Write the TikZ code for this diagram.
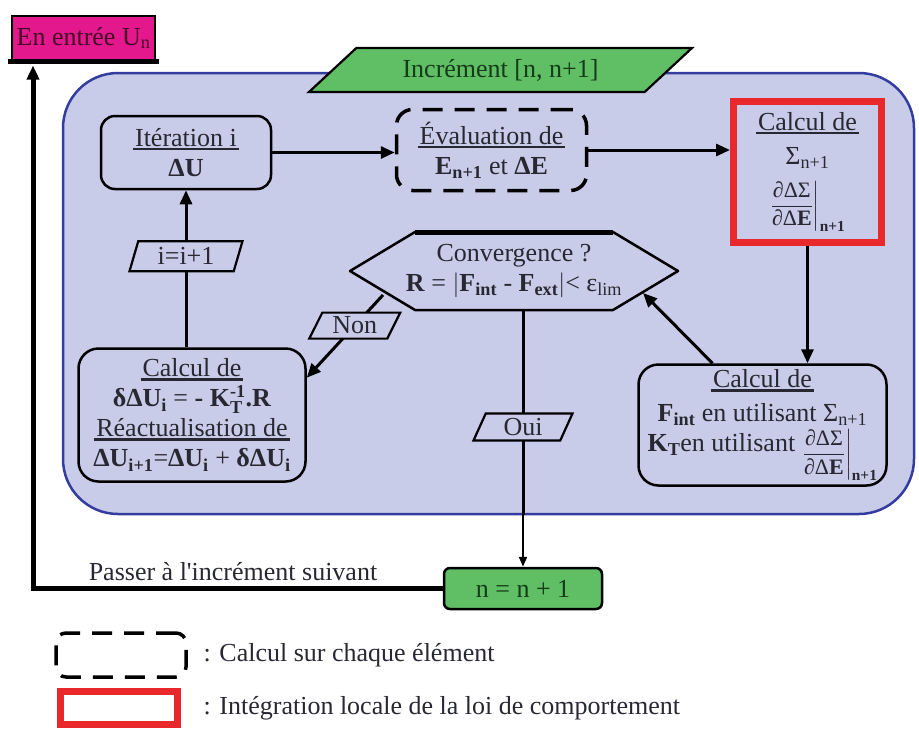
\documentclass[tikz,border=0pt]{standalone}
\usepackage{amsmath}
\usepackage{fontspec}
\setmainfont{Liberation Serif}[Ligatures=TeXOff]
\usetikzlibrary{shapes.geometric,arrows.meta}
\definecolor{fond}{RGB}{200,204,232}
\definecolor{bordbleu}{RGB}{52,60,160}
\definecolor{vert}{RGB}{96,190,100}
\definecolor{vertfonce}{RGB}{20,60,25}
\definecolor{rose}{RGB}{226,24,140}
\definecolor{rosefonce}{RGB}{70,10,40}
\definecolor{rouge}{RGB}{232,40,42}
\definecolor{encre}{RGB}{40,40,50}
\newcommand{\grand}{\fontsize{26}{30}\selectfont}
\newcommand{\moyen}{\fontsize{22}{24}\selectfont}
\newcommand{\souligne}[1]{\setbox0\hbox{\kern2pt#1\kern2pt}\vtop{\box0\kern1pt\hrule height2.5pt}}

\begin{document}
\begin{tikzpicture}[x=1pt,y=-1pt]
    \tikzset{%
      boite/.style={draw, line width=2.5pt, rounded corners=14pt,
        align=center, text=encre, font=\grand, inner sep=1pt},
      pointille/.style={boite, dash pattern=on 20pt off 12pt,
        line width=3.5pt},
      locale/.style={draw=rouge, line width=7pt, align=center,
        text=encre, font=\grand, inner sep=1pt},
      para/.style={trapezium, trapezium stretches body, draw,
        line width=2.2pt, fill=fond, text=encre, font=\grand, inner sep=0pt},
      fleche/.style={line width=3pt, -{Triangle[length=14pt,width=12pt]}},
      flechefine/.style={line width=2pt, -{Triangle[length=10pt,width=8pt]}},
      trait/.style={line width=3pt},
    }
    \useasboundingbox (0,0) rectangle (919,729);
    % cadre bleu
    \node[draw=bordbleu, fill=fond, line width=2.5pt, rounded corners=55pt,
      minimum width=851pt, minimum height=441pt, inner sep=0pt] (cadre) at (488.5,293.5) {};
    \node[para, fill=vert, text=vertfonce, trapezium left angle=25,
      trapezium right angle=155, minimum width=383pt, minimum height=44pt] (incr) at (500.5,70) {Incrément [n, n+1]};
    % entree
    \node[draw, line width=2pt, fill=rose, text=rosefonce, font=\grand,
      minimum width=143pt, minimum height=45pt, inner sep=1pt] (entree) at (83.5,38) {En entrée U\textsubscript{n}};
    \draw [line width=5pt] ([xshift=-3pt]entree.south west) -- ([xshift=3pt]entree.south east);

    \node[boite, minimum width=170pt, minimum height=73pt] (iter) at (186,152.5)
      {\souligne{Itération i}\\ \textbf{ΔU}};
    \node[pointille, rounded corners=16pt, minimum width=190pt, minimum height=81pt] (eval) at (491.5,150)
      {\souligne{Évaluation de}\\ \textbf{E}$_{\text{\bfseries n+1}}$ et \textbf{ΔE}};
    \node[locale, minimum width=148pt, minimum height=141pt] (red) at (807.5,172)
      {\souligne{Calcul de}\\[4pt] Σ$_{\text{n+1}}$\\[12pt]
       {\moyen$\left.\dfrac{\text{∂ΔΣ}}{\text{∂Δ\bfseries E}}\right|_{\text{\bfseries n+1}}$}};

    % convergence (hexagone)
    \node[text=encre, font=\grand, align=center, inner sep=1pt] (conv) at (514,271)
      {Convergence ?\\ \textbf{R} = $\left|\text{\bfseries F}_{\text{\bfseries int}}\text{ - }\text{\bfseries F}_{\text{\bfseries ext}}\right|$< ε$_{\text{lim}}$};
    \draw [line width=2.5pt, line join=round] (conv.center) ++(-164,0) -- ++(65,-39) -- ++(198,0)
      -- ++(65,39) -- ++(-65,39) -- ++(-198,0) -- cycle;
    \draw [line width=5pt] ([shift={(-99,-39)}]conv.center) -- ([shift={(99,-39)}]conv.center);
    \coordinate (convd) at ([shift={(129,22)}]conv.center);
    \coordinate (convg) at ([shift={(-131,24)}]conv.center);
    \coordinate (convbas) at ([shift={(0,39)}]conv.center);

    \node[boite, rounded corners=20pt, minimum width=248pt, minimum height=121pt] (fint) at (762.5,425)
      {\souligne{Calcul de}\\[4pt]
       \textbf{F}$_{\text{\bfseries int}}$ en utilisant Σ$_{\text{n+1}}$\\
       \textbf{K}$_{\text{\bfseries T}}$en utilisant \raisebox{-8pt}{\moyen$\left.\dfrac{\text{∂ΔΣ}}{\text{∂Δ\bfseries E}}\right|_{\text{\bfseries n+1}}$}};
    \node[boite, rounded corners=20pt, minimum width=227pt, minimum height=133pt] (calc) at (192,415)
      {\souligne{Calcul de}\\
       \textbf{δΔU}$_{\text{\bfseries i}}$ = \textbf{- K}$^{\text{\bfseries -1}}_{\text{\bfseries T}}$\textbf{.R}\\
       \souligne{Réactualisation de}\\
       \textbf{ΔU}$_{\text{\bfseries i+1}}$=\textbf{ΔU}$_{\text{\bfseries i}}$ + \textbf{δΔU}$_{\text{\bfseries i}}$};
    \node[boite, fill=vert, text=vertfonce, rounded corners=6pt,
      minimum width=158pt, minimum height=41pt] (nplus) at (523,588.5) {n = n + 1};

    % liaisons
    \draw [fleche] (iter.east) -- (iter.east -| eval.west);
    \draw [fleche] (eval.east) -- (eval.east -| red.west);
    \draw [fleche] (red.south) -- (red.south |- fint.north);
    \draw [fleche] (fint.129) -- (convd);
    \draw [fleche] (convg) -- node[para, pos=0.37, trapezium left angle=53,
      trapezium right angle=127, minimum width=91pt, minimum height=26pt] (non) {Non} (calc.18);
    \draw [fleche] (iter.south |- calc.north) -- node[para, pos=0.58, trapezium left angle=63,
      trapezium right angle=117, minimum width=113pt, minimum height=30pt] (iplus) {i=i+1} (iter.south);
    \draw [trait] (nplus.north |- convbas) -- node[para, pos=0.57, trapezium left angle=55,
      trapezium right angle=125, minimum width=99pt, minimum height=27pt] (oui) {Oui} (nplus.north |- cadre.south);
    \draw [flechefine] (nplus.north |- cadre.south) -- (nplus.north);
    \coordinate (coin) at (33,593);
    \draw [line width=5pt, -{Triangle[length=14pt,width=12pt]}] (nplus.west) -| ([yshift=-4pt]coin |- entree.south);
    \node [text=encre, font=\grand] (passer) at (233,572) {Passer à l'incrément suivant};

    % legende
    \node[pointille, rounded corners=10pt, minimum width=130pt, minimum height=44pt] (legpoint) at (121,655) {};
    \node[anchor=west, text=encre, font=\grand] (legtxt1) at (200,655) {: Calcul sur chaque élément};
    \node[locale, minimum width=117pt, minimum height=33pt] (legrouge) at (118.5,708) {};
    \node[anchor=west, text=encre, font=\grand] (legtxt2) at (200,708) {: Intégration locale de la loi de comportement};
  \end{tikzpicture}
\end{document}
